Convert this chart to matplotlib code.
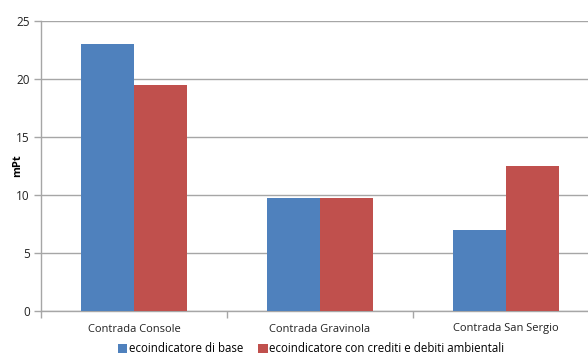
import matplotlib.pyplot as plt
import numpy as np

categories = ['Contrada Console', 'Contrada Gravinola', 'Contrada San Sergio']
base = [23.0, 9.7, 7.0]
crediti = [19.5, 9.7, 12.5]
series_names = ['ecoindicatore di base', 'ecoindicatore con crediti e debiti ambientali']

plt.rcParams['font.family'] = ['Open Sans', 'DejaVu Sans']

fig = plt.figure(figsize=(5.88, 3.56), dpi=100)
ax = fig.add_axes([41 / 588, 1 - 311 / 356, 1 - 41 / 588, 290 / 356])

x = np.arange(len(categories))
w = 0.285
ax.bar(x - w / 2, base, w, color='#4F81BD', label=series_names[0], zorder=3)
ax.bar(x + w / 2, crediti, w, color='#C0504D', label=series_names[1], zorder=3)

ax.set_ylim(0, 25)
ax.set_yticks([0, 5, 10, 15, 20, 25])
ax.set_xlim(-0.5, 2.5 - 11 / 186)
ax.yaxis.grid(True, color='#A6A6A6', linewidth=1, zorder=0)

ax.set_xticks(x)
ax.set_xticklabels(categories)
ax.set_xticks([-0.5, 0.5, 1.5], minor=True)
ax.tick_params(axis='x', which='major', length=0, pad=9, labelsize=8, colors='#222222')
ax.tick_params(axis='x', which='minor', length=5, color='#A6A6A6', width=1)
ax.tick_params(axis='y', length=5, color='#A6A6A6', width=1, labelsize=8.5,
               pad=3, labelcolor='#222222')

for s in ['top', 'right']:
    ax.spines[s].set_visible(False)
for s in ['left', 'bottom']:
    ax.spines[s].set_color('#A6A6A6')
    ax.spines[s].set_linewidth(1)

ax.set_ylabel('mPt', fontsize=8, fontweight='bold')
ax.yaxis.set_label_coords(-0.032, 0.5)

ax.legend(loc='center', bbox_to_anchor=(0.494, -0.131), ncol=2, frameon=False,
          fontsize=8.3, handlelength=0.8, handleheight=0.8, handletextpad=0.15,
          columnspacing=1.3, borderpad=0, borderaxespad=0)

fig.savefig('out.png', dpi=100)
